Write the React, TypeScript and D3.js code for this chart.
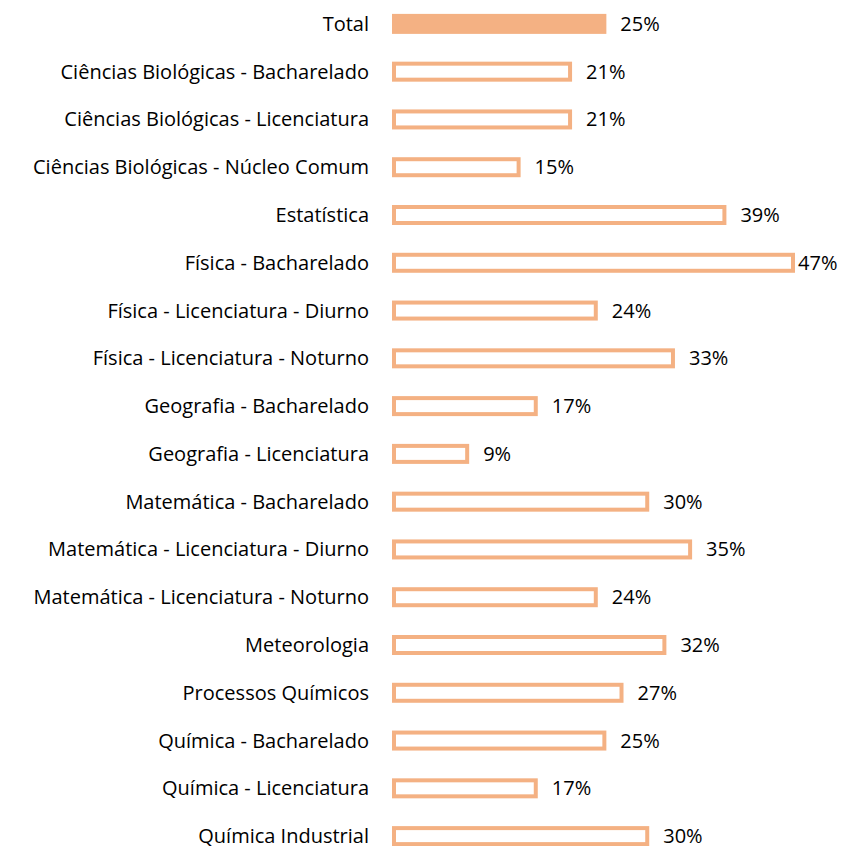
import * as d3 from 'd3';

const categories = [
  'Total',
  'Ciências Biológicas - Bacharelado',
  'Ciências Biológicas - Licenciatura',
  'Ciências Biológicas - Núcleo Comum',
  'Estatística',
  'Física - Bacharelado',
  'Física - Licenciatura - Diurno',
  'Física - Licenciatura - Noturno',
  'Geografia - Bacharelado',
  'Geografia - Licenciatura',
  'Matemática - Bacharelado',
  'Matemática - Licenciatura - Diurno',
  'Matemática - Licenciatura - Noturno',
  'Meteorologia',
  'Processos Químicos',
  'Química - Bacharelado',
  'Química - Licenciatura',
  'Química Industrial',
];

const values = [25, 21, 21, 15, 39, 47, 24, 33, 17, 9, 30, 35, 24, 32, 27, 25, 17, 30];

const WIDTH = 843;
const HEIGHT = 846;
const X0 = 392;
const COLOR = '#F4B183';
const FONT = 'Open Sans, sans-serif';

export default function App() {
  const x = d3.scaleLinear().domain([0, 47]).range([X0, 795]);
  const y = d3.scaleBand<string>().domain(categories).range([0, 860]).paddingInner(0.58).paddingOuter(0.29);
  const bh = 20;

  return (
    <svg width={WIDTH} height={HEIGHT} style={{ position: 'absolute', left: 0, top: 0, background: '#fff' }}>
      {categories.map((c, i) => {
        const cy = y(c)! + y.bandwidth() / 2;
        const w = x(values[i]) - X0;
        const tx = Math.min(x(values[i]) + 14, 798);
        return (
          <g key={c}>
            <text x={369} y={cy} dy="0.35em" textAnchor="end" fontFamily={FONT} fontSize={20} fill="#000">{c}</text>
            {i === 0 ? (
              <rect x={X0} y={cy - bh / 2} width={w} height={bh} fill={COLOR} />
            ) : (
              <rect x={X0 + 2} y={cy - bh / 2 + 2} width={w - 4} height={bh - 4} fill="#fff" stroke={COLOR} strokeWidth={4} />
            )}
            <text x={tx} y={cy} dy="0.35em" fontFamily={FONT} fontSize={20} fill="#000">{values[i]}%</text>
          </g>
        );
      })}
    </svg>
  );
}
